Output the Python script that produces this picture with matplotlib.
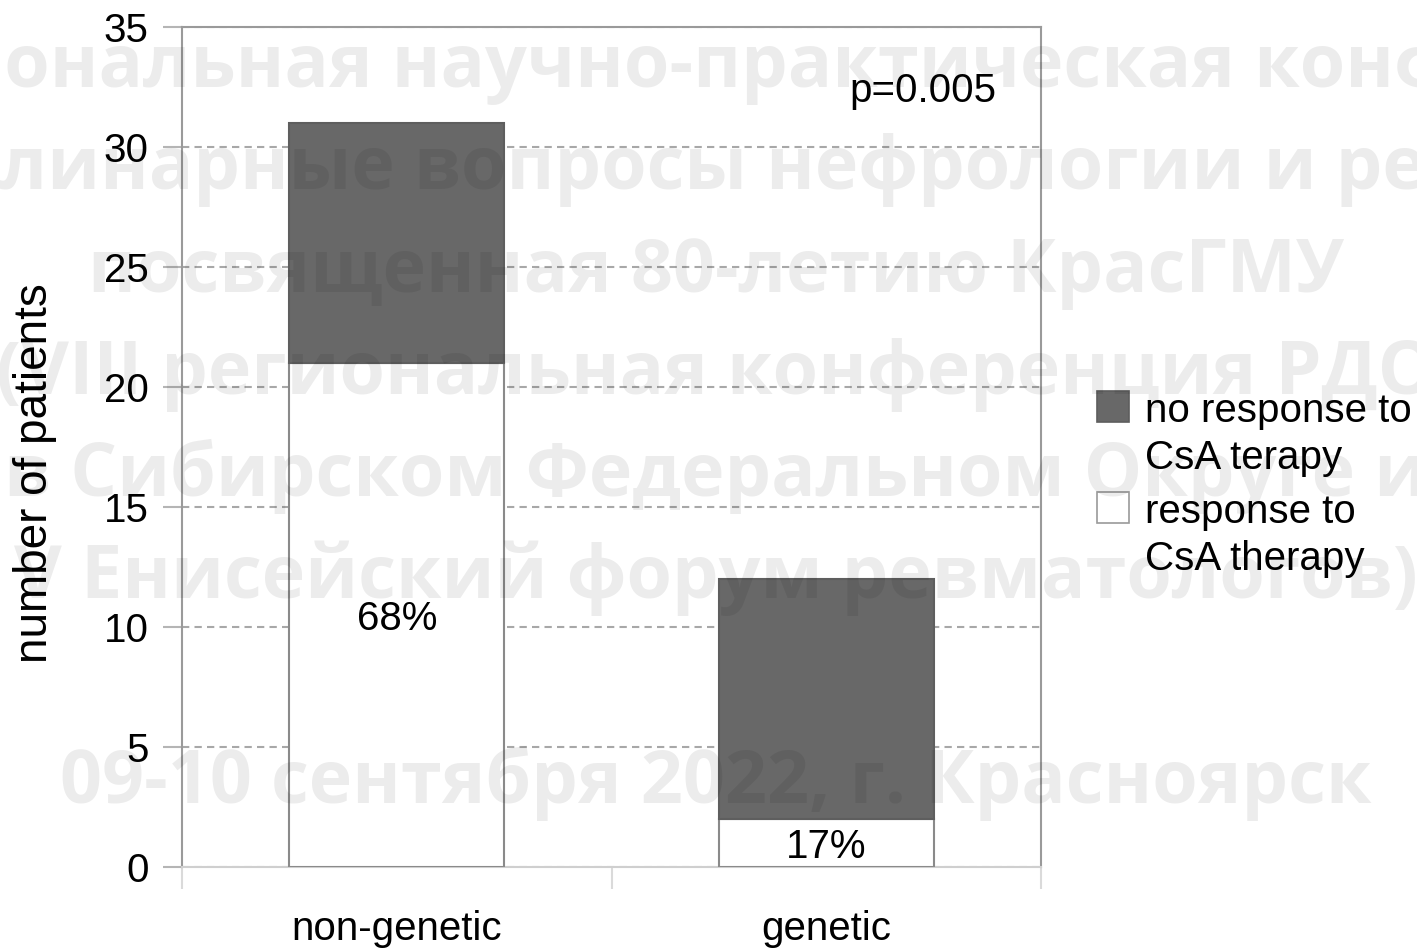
import numpy as np
import matplotlib
matplotlib.use("Agg")
import matplotlib.pyplot as plt
from matplotlib.patches import Rectangle

# ---- data ----
categories = ["non-genetic", "genetic"]
response = [21, 2]          # response to CsA therapy (white)
no_response = [10, 10]      # no response to CsA therapy (dark)
percent_labels = ["68%", "17%"]
p_value_text = "p=0.005"
y_ticks = [0, 5, 10, 15, 20, 25, 30, 35]
legend_labels = ["no response to\nCsA terapy", "response to\nCsA therapy"]
watermark_lines = [
    "Межрегиональная научно-практическая конференция",
    "«Междисциплинарные вопросы нефрологии и ревматологии»",
    "посвященная 80-летию КрасГМУ",
    "(VIII региональная конференция РДО",
    "в Сибирском Федеральном Округе и",
    "V Енисейский форум ревматологов)",
    "",
    "09-10 сентября 2022, г. Красноярск",
]

W, H = 1417, 950
plt.rcParams["font.family"] = ["Liberation Sans", "DejaVu Sans"]
fig = plt.figure(figsize=(W / 100, H / 100), dpi=100)
fig.patch.set_facecolor("white")
ax = fig.add_axes([182 / W, 83 / H, 859 / W, 840 / H])

FS = 29
dark = "#686868"
edge = "#8a8a8a"
x = np.arange(len(categories))
ax.bar(x, response, width=0.5, color="white", edgecolor=edge, linewidth=1.5, zorder=3)
ax.bar(x, no_response, bottom=response, width=0.5, color=dark, edgecolor="#5e5e5e",
       linewidth=1.5, zorder=3)

ax.set_xlim(-0.5, len(categories) - 0.5)
ax.set_ylim(0, 35)
ax.set_yticks(y_ticks)
ax.set_yticklabels([str(v) for v in y_ticks], fontsize=FS)
ax.yaxis.grid(True, linestyle=(0, (3.5, 2.5)), color="#a8a8a8", linewidth=1.5, zorder=0)
ax.set_axisbelow(True)
ax.tick_params(axis="y", direction="out", length=14, width=1.5, color="#b5b5b5", pad=10)

# category boundaries as major ticks, labels as minor
ax.set_xticks(np.arange(len(categories) + 1) - 0.5)
ax.set_xticklabels([])
ax.set_xticks(x, minor=True)
ax.set_xticklabels(categories, minor=True, fontsize=FS)
ax.tick_params(axis="x", which="major", direction="out", length=16, width=1.5, color="#dadada")
ax.tick_params(axis="x", which="minor", length=0, pad=31)

for side in ["left", "right", "top"]:
    ax.spines[side].set_color("#9a9a9a")
    ax.spines[side].set_linewidth(1.5)
ax.spines["bottom"].set_color("#cfcfcf")
ax.spines["bottom"].set_linewidth(1.5)

ax.set_ylabel("number of patients", fontsize=33)
ax.yaxis.set_label_coords(-0.145, 0.469)

for xi, r, lab in zip(x, response, percent_labels):
    ax.text(xi, r / 2, lab, ha="center", va="center_baseline", fontsize=FS, zorder=5)

ax.text(1.395, 32.5, p_value_text, ha="right", va="center_baseline", fontsize=FS)

# legend (handle aligned with first line of each label)
colors = [dark, "white"]
edges = ["#5e5e5e", "#9a9a9a"]
first_baselines = [422, 523]
for lab, c, ec, b in zip(legend_labels, colors, edges, first_baselines):
    fig.patches.append(Rectangle((1097 / W, 1 - b / H), 32 / W, 31 / H,
                                 transform=fig.transFigure, facecolor=c,
                                 edgecolor=ec, linewidth=1.2))
    for k, line in enumerate(lab.split("\n")):
        fig.text(1145 / W, 1 - (b + 47 * k) / H, line, ha="left", va="baseline", fontsize=FS)

# watermark
base0, step = 87, 102.3
for i, line in enumerate(watermark_lines):
    if line:
        fig.text(716 / W, 1 - (base0 + step * i) / H, line, ha="center", va="baseline",
                 fontsize=53, family=["Open Sans", "DejaVu Sans"], fontweight="bold",
                 color="black", alpha=0.075, zorder=10)

fig.savefig("out.png", dpi=100)
